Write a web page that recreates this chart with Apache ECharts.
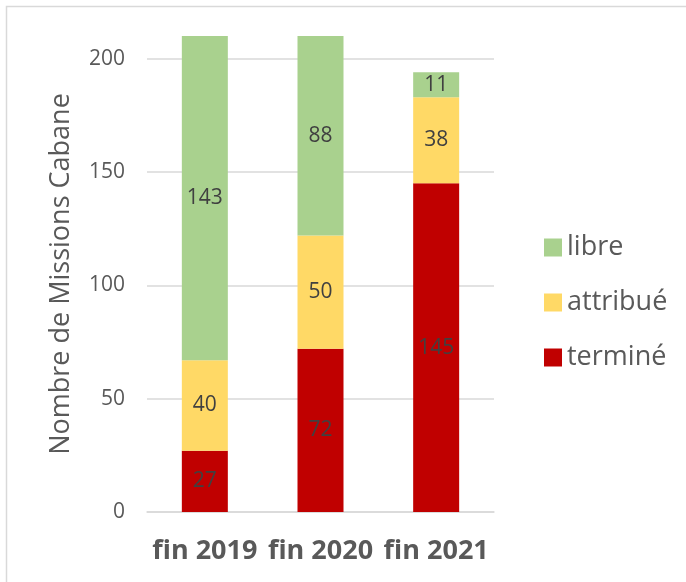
<!DOCTYPE html>
<html>
<head>
<meta charset="utf-8">
<script src="https://cdn.jsdelivr.net/npm/echarts@6/dist/echarts.min.js"></script>
<style>
html,body{margin:0;padding:0;background:#fff;}
#chart{width:686px;height:582px;}
</style>
</head>
<body>
<div id="chart"></div>
<script>
const categories = ['fin 2019', 'fin 2020', 'fin 2021'];
const termine = [27, 72, 145];
const attribue = [40, 50, 38];
const libre = [143, 88, 11];
const seriesNames = ['terminé', 'attribué', 'libre'];
const colors = ['#C00000', '#FFD966', '#A9D18E'];
const yTicks = { min: 0, max: 210, interval: 50 };
const yTitle = 'Nombre de Missions Cabane';

const FONT = 'Open Sans';
const chart = echarts.init(document.getElementById('chart'), null, { renderer: 'canvas' });

const dataSets = [termine, attribue, libre];
const series = seriesNames.map((name, i) => ({
  name: name,
  type: 'bar',
  stack: 'total',
  data: dataSets[i],
  barWidth: 46,
  itemStyle: { color: colors[i] },
  label: {
    show: true,
    position: 'inside',
    color: '#404040',
    fontFamily: FONT,
    fontSize: 21
  }
}));

chart.setOption({
  animation: false,
  backgroundColor: '#ffffff',
  graphic: [{
    type: 'rect',
    silent: true,
    shape: { x: 6.5, y: 6.5, width: 700, height: 600 },
    style: { fill: 'none', stroke: '#d9d9d9', lineWidth: 1.5 }
  }],
  grid: { left: 147, right: 192, top: 36, bottom: 70 },
  legend: {
    orient: 'vertical',
    left: 539,
    top: 229,
    itemWidth: 18,
    itemHeight: 18,
    itemGap: 28,
    icon: 'rect',
    data: ['libre', 'attribué', 'terminé'],
    textStyle: { fontFamily: FONT, fontSize: 27, color: '#595959', lineHeight: 27 }
  },
  xAxis: {
    type: 'category',
    data: categories,
    axisLine: { show: true, lineStyle: { color: '#d9d9d9', width: 1.5 } },
    axisTick: { show: false },
    axisLabel: {
      fontFamily: FONT, fontSize: 27, fontWeight: 'bold', color: '#595959',
      margin: 26, interval: 0
    }
  },
  yAxis: {
    type: 'value',
    min: yTicks.min,
    max: yTicks.max,
    interval: yTicks.interval,
    name: yTitle,
    nameLocation: 'middle',
    nameRotate: 90,
    nameGap: 72,
    nameTextStyle: { fontFamily: FONT, fontSize: 27, color: '#595959' },
    axisLine: { show: false },
    axisTick: { show: false },
    axisLabel: {
      fontFamily: FONT, fontSize: 21, color: '#595959', margin: 22,
      showMaxLabel: false,
      formatter: v => (v === yTicks.max ? '' : String(v))
    },
    splitLine: { show: true, showMaxLine: false, lineStyle: { color: '#d9d9d9', width: 1.5 } }
  },
  series: series
});
</script>
</body>
</html>
